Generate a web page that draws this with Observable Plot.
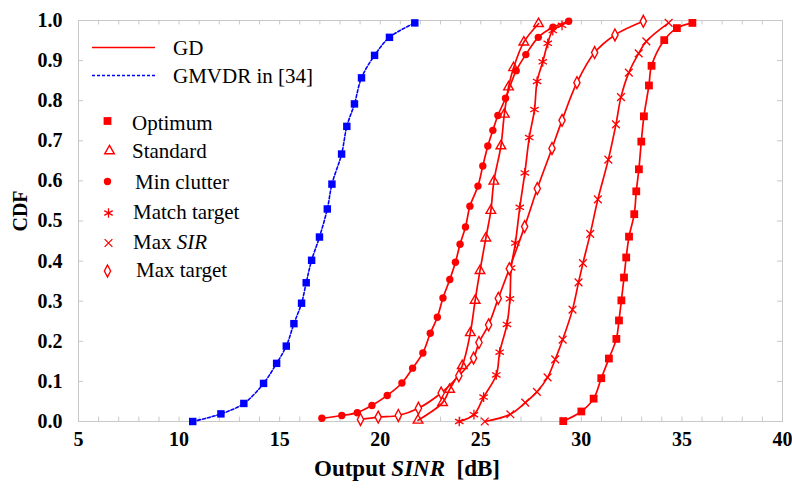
<!DOCTYPE html>
<html><head><meta charset="utf-8">
<script src="https://cdn.jsdelivr.net/npm/d3@7"></script>
<script src="https://cdn.jsdelivr.net/npm/@observablehq/plot@0.6"></script>
<style>body{margin:0;background:#fff;} #chart svg{display:block;}</style>
</head><body><div id="chart"></div>
<script>
// ---- tick labels ----
const xTicks = [5, 10, 15, 20, 25, 30, 35, 40];
const yTicks = [0, 0.1, 0.2, 0.3, 0.4, 0.5, 0.6, 0.7, 0.8, 0.9, 1.0];
const xMinorTicks = [6,7,8,9,10,11,12,13,14,15,16,17,18,19,20,21,22,23,24,25,26,27,28,29,30,31,32,33,34,35,36,37,38,39];

// ---- legend labels ----
const lineLegend = ["GD", "GMVDR in [34]"];
const markerLegend = ["Optimum", "Standard", "Min clutter", "Match target", "Max SIR", "Max target"];

// ---- series (x = output SINR dB, y = CDF) ----
const gmvdrX = [10.68, 12.08, 13.22, 14.2, 14.85, 15.33, 15.71, 16.09, 16.32, 16.59, 16.98, 17.37, 17.6, 18.08, 18.34, 18.72, 19.07, 19.72, 20.46, 21.72];
const gmvdrY = [0.0, 0.019, 0.045, 0.095, 0.145, 0.188, 0.244, 0.295, 0.346, 0.402, 0.46, 0.53, 0.592, 0.667, 0.736, 0.792, 0.857, 0.913, 0.958, 0.994];

const optimumX = [29.1, 30.0, 30.61, 30.99, 31.37, 31.74, 31.87, 31.99, 32.12, 32.23, 32.37, 32.63, 32.73, 32.86, 32.98, 33.11, 33.36, 33.49, 34.12, 34.75, 35.52];
const optimumY = [0.001, 0.025, 0.057, 0.108, 0.157, 0.206, 0.252, 0.302, 0.359, 0.409, 0.461, 0.517, 0.574, 0.629, 0.698, 0.761, 0.838, 0.887, 0.951, 0.981, 0.994];

const standardX = [21.88, 23.1, 23.45, 24.08, 24.48, 24.72, 24.96, 25.25, 25.5, 25.65, 26.0, 26.17, 26.38, 26.63, 27.14, 27.87];
const standardY = [0.003, 0.047, 0.08, 0.139, 0.221, 0.302, 0.376, 0.457, 0.526, 0.599, 0.687, 0.766, 0.834, 0.882, 0.946, 0.992];

const minClutterX = [17.1, 18.09, 18.86, 19.59, 20.35, 21.08, 21.61, 22.12, 22.49, 22.84, 23.12, 23.46, 23.74, 23.97, 24.24, 24.46, 24.86, 25.1, 25.35, 25.6, 25.85, 26.23, 26.76, 27.24, 27.86, 28.59, 29.37];
const minClutterY = [0.008, 0.015, 0.022, 0.04, 0.065, 0.096, 0.133, 0.171, 0.22, 0.26, 0.308, 0.354, 0.397, 0.442, 0.485, 0.537, 0.587, 0.637, 0.687, 0.726, 0.763, 0.806, 0.875, 0.915, 0.958, 0.983, 0.998];

const matchTargetX = [23.93, 24.66, 25.14, 25.77, 25.94, 26.3, 26.45, 26.51, 26.72, 26.94, 27.19, 27.41, 27.67, 27.8, 28.08, 28.33, 28.58, 29.04];
const matchTargetY = [0.0, 0.017, 0.061, 0.116, 0.173, 0.242, 0.306, 0.383, 0.445, 0.534, 0.62, 0.708, 0.778, 0.848, 0.897, 0.943, 0.975, 0.988];

const maxSirX = [25.2, 26.47, 27.21, 27.79, 28.32, 28.7, 29.07, 29.56, 29.86, 30.08, 30.44, 30.82, 31.34, 31.72, 31.97, 32.36, 32.85, 33.23, 34.34];
const maxSirY = [0.0, 0.018, 0.047, 0.074, 0.11, 0.155, 0.204, 0.279, 0.347, 0.395, 0.468, 0.554, 0.653, 0.741, 0.809, 0.87, 0.918, 0.948, 0.994];

const maxTargetX = [19.02, 19.9, 20.9, 21.9, 23.03, 23.91, 24.64, 24.91, 25.39, 25.87, 26.42, 27.18, 27.81, 28.54, 29.04, 29.78, 30.66, 31.67, 33.08];
const maxTargetY = [0.005, 0.011, 0.015, 0.033, 0.071, 0.114, 0.158, 0.197, 0.241, 0.307, 0.381, 0.486, 0.581, 0.681, 0.751, 0.845, 0.92, 0.964, 0.998];

const RED = "#ff0000", BLUE = "#0000ff", GRID = "#c8c8c8";
const rows = (xs, ys) => xs.map((x, i) => ({x, y: ys[i]}));

// tall narrow diamond symbol
const tallDiamond = {
  draw(ctx, size) {
    const s = Math.sqrt(size);
    const h = s * 0.8, w = s * 0.42;
    ctx.moveTo(0, -h); ctx.lineTo(w, 0); ctx.lineTo(0, h); ctx.lineTo(-w, 0); ctx.closePath();
  }
};

const redSeries = [
  {name: markerLegend[0], data: rows(optimumX, optimumY), symbol: "square", r: 4.4, fill: RED, stroke: "none", sw: 0},
  {name: markerLegend[1], data: rows(standardX, standardY), symbol: "triangle2", r: 4.6, fill: "none", stroke: RED, sw: 1.4},
  {name: markerLegend[2], data: rows(minClutterX, minClutterY), symbol: "circle", r: 3.7, fill: RED, stroke: "none", sw: 0},
  {name: markerLegend[3], data: rows(matchTargetX, matchTargetY), symbol: "asterisk", r: 4.6, fill: "none", stroke: RED, sw: 1.3},
  {name: markerLegend[4], data: rows(maxSirX, maxSirY), symbol: "times", r: 3.6, fill: "none", stroke: RED, sw: 1.3},
  {name: markerLegend[5], data: rows(maxTargetX, maxTargetY), symbol: tallDiamond, r: 4.2, fill: "white", stroke: RED, sw: 1.4}
];

const marks = [
  Plot.frame({stroke: GRID}),
  Plot.ruleX(xMinorTicks, {y1: 0, y2: 0.011, stroke: GRID}),
  Plot.ruleX(xMinorTicks, {y1: 1, y2: 0.989, stroke: GRID}),
  Plot.ruleY(yTicks, {x1: 5, x2: 5.25, stroke: GRID}),
  Plot.ruleY(yTicks, {x1: 39.75, x2: 40, stroke: GRID}),
  Plot.line(rows(gmvdrX, gmvdrY), {x: "x", y: "y", stroke: BLUE, strokeWidth: 1.6, strokeDasharray: "3,2", curve: "catmull-rom"}),
  Plot.dot(rows(gmvdrX, gmvdrY), {x: "x", y: "y", symbol: "square", r: 4.2, fill: BLUE, stroke: "none"})
];
for (const s of redSeries) {
  marks.push(Plot.line(s.data, {x: "x", y: "y", stroke: RED, strokeWidth: 1.7, curve: "catmull-rom"}));
}
for (const s of redSeries) {
  marks.push(Plot.dot(s.data, {x: "x", y: "y", symbol: s.symbol, r: s.r, fill: s.fill, stroke: s.stroke, strokeWidth: s.sw}));
}

const chart = Plot.plot({
  width: 792, height: 490,
  marginLeft: 78, marginRight: 10, marginTop: 20, marginBottom: 69,
  style: {fontFamily: "'Liberation Serif', 'Times New Roman', serif", fontSize: "20px", fontWeight: "bold", background: "white", color: "black", overflow: "visible"},
  x: {domain: [5, 40], ticks: xTicks, tickSize: 0, tickPadding: 10, label: null, tickFormat: d => String(d)},
  y: {domain: [0, 1], ticks: yTicks, tickSize: 0, tickPadding: 16, label: null, tickFormat: d => d.toFixed(1)},
  marks
});
document.getElementById("chart").appendChild(chart);

// ---- titles and legend overlay ----
const svg = d3.select(chart.tagName.toLowerCase() === "svg" ? chart : chart.querySelector("svg"));
const font = "'Liberation Serif', 'Times New Roman', serif";

svg.append("text").attr("transform", "translate(27,211) rotate(-90)")
  .attr("text-anchor", "middle").attr("font-family", font).attr("font-size", 20).attr("font-weight", "bold")
  .attr("fill", "black").text("CDF");

const xt = svg.append("text").attr("x", 407).attr("y", 476).attr("text-anchor", "middle")
  .attr("font-family", font).attr("font-size", 23).attr("font-weight", "bold").attr("fill", "black");
xt.append("tspan").text("Output ");
xt.append("tspan").attr("font-style", "italic").text("SINR");
xt.append("tspan").text("\u00a0 [dB]");

const lg = svg.append("g").attr("font-family", font).attr("font-size", 21).attr("font-weight", "normal")
  .attr("text-anchor", "start").attr("fill", "black");
lg.append("line").attr("x1", 92).attr("x2", 155).attr("y1", 47.5).attr("y2", 47.5).attr("stroke", RED).attr("stroke-width", 1.7);
lg.append("text").attr("x", 173).attr("y", 55).text(lineLegend[0]);
lg.append("line").attr("x1", 92).attr("x2", 155).attr("y1", 75.5).attr("y2", 75.5).attr("stroke", BLUE).attr("stroke-width", 1.6).attr("stroke-dasharray", "3,2");
lg.append("text").attr("x", 173).attr("y", 83).text(lineLegend[1]);

const legendPos = [
  {mx: 107.5, my: 121, tx: 132, ty: 130},
  {mx: 109.5, my: 151, tx: 132, ty: 158},
  {mx: 107.5, my: 181.5, tx: 135, ty: 188.5},
  {mx: 108.5, my: 213, tx: 133, ty: 218.5},
  {mx: 108.5, my: 243, tx: 133, ty: 249},
  {mx: 107.5, my: 271, tx: 136, ty: 277}
];
const symMap = {square: d3.symbolSquare, triangle2: d3.symbolTriangle2, circle: d3.symbolCircle, asterisk: d3.symbolAsterisk, times: d3.symbolTimes};
redSeries.forEach((s, i) => {
  const p = legendPos[i];
  const type = typeof s.symbol === "string" ? symMap[s.symbol] : s.symbol;
  lg.append("path").attr("transform", `translate(${p.mx},${p.my})`)
    .attr("d", d3.symbol(type, Math.PI * s.r * s.r)())
    .attr("fill", s.fill).attr("stroke", s.stroke).attr("stroke-width", s.sw);
  const t = lg.append("text").attr("x", p.tx).attr("y", p.ty).attr("text-anchor", "start");
  if (s.name === "Max SIR") {
    t.append("tspan").text("Max ");
    t.append("tspan").attr("font-style", "italic").text("SIR");
  } else t.text(s.name);
});
</script>
</body></html>
